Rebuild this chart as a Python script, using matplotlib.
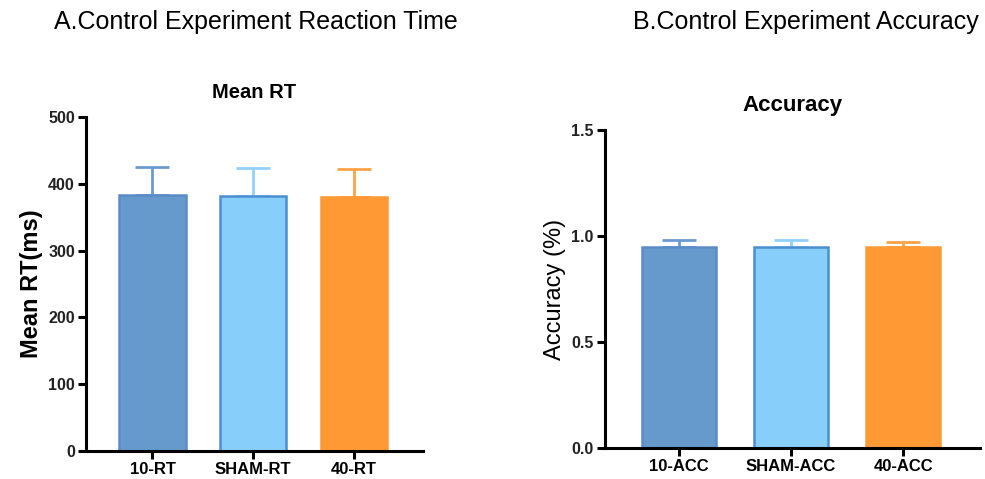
import matplotlib.pyplot as plt
import numpy as np

plt.rcParams["font.family"] = ["Liberation Sans", "DejaVu Sans"]

# panel A: reaction time
rt_labels = ["10-RT", "SHAM-RT", "40-RT"]
rt_mean = [384, 382, 380]
rt_err = [42, 42, 43]

# panel B: accuracy
acc_labels = ["10-ACC", "SHAM-ACC", "40-ACC"]
acc_mean = [0.948, 0.947, 0.948]
acc_err = [0.035, 0.033, 0.024]

fills = ["#6699cc", "#87cefa", "#ff9933"]
edges = ["#5a8cc8", "#4a8fd0", "#ff9933"]
errcols = ["#6a9bd0", "#92d2fa", "#ffa348"]


def bar_panel(ax, labels, means, errs, ylim, yticks, ylabel, title, ylabel_bold, title_size):
    x = np.arange(len(labels))
    ax.bar(x, means, width=0.66, color=fills, edgecolor=edges, linewidth=1.8, zorder=2)
    for xi, m, e, c in zip(x, means, errs, errcols):
        ax.errorbar(xi, m, yerr=[[0], [e]], fmt="none", ecolor=c,
                    elinewidth=2, capsize=12, capthick=2, zorder=1)

    ax.set_xlim(-0.66, 2.685)
    ax.set_ylim(*ylim)
    ax.set_yticks(yticks)
    ax.set_xticks(x)
    ax.set_xticklabels(labels, fontsize=12, fontweight="bold")
    for t in ax.get_yticklabels():
        t.set_fontsize(11.5)
        t.set_fontweight("bold")
        t.set_color("#222222")
    for sp in ["top", "right"]:
        ax.spines[sp].set_visible(False)
    for sp in ["left", "bottom"]:
        ax.spines[sp].set_linewidth(2.2)
    ax.tick_params(axis="both", width=2.2, length=6, pad=2)
    ax.set_ylabel(ylabel, fontsize=17, fontweight="bold" if ylabel_bold else "normal", labelpad=4)
    ax.set_title(title, fontsize=title_size, fontweight="bold", pad=14)


fig = plt.figure(figsize=(9.85, 4.79), dpi=100)

ax1 = fig.add_axes([0.0873, 0.0585, 0.342, 0.697])
bar_panel(ax1, rt_labels, rt_mean, rt_err, (0, 500), [0, 100, 200, 300, 400, 500],
          "Mean RT(ms)", "Mean RT", True, 14.5)

ax2 = fig.add_axes([0.614, 0.064, 0.381, 0.6645])
bar_panel(ax2, acc_labels, acc_mean, acc_err, (0, 1.5), [0.0, 0.5, 1.0, 1.5],
          "Accuracy (%)", "Accuracy", False, 16)
ax2.set_yticklabels(["0.0", "0.5", "1.0", "1.5"], fontsize=11.5, fontweight="bold")

fig.text(0.26, 0.955, "A.Control Experiment Reaction Time", fontsize=18,
         ha="center", va="center")
fig.text(0.818, 0.955, "B.Control Experiment Accuracy", fontsize=18,
         ha="center", va="center")

plt.savefig("out.png", dpi=100)
